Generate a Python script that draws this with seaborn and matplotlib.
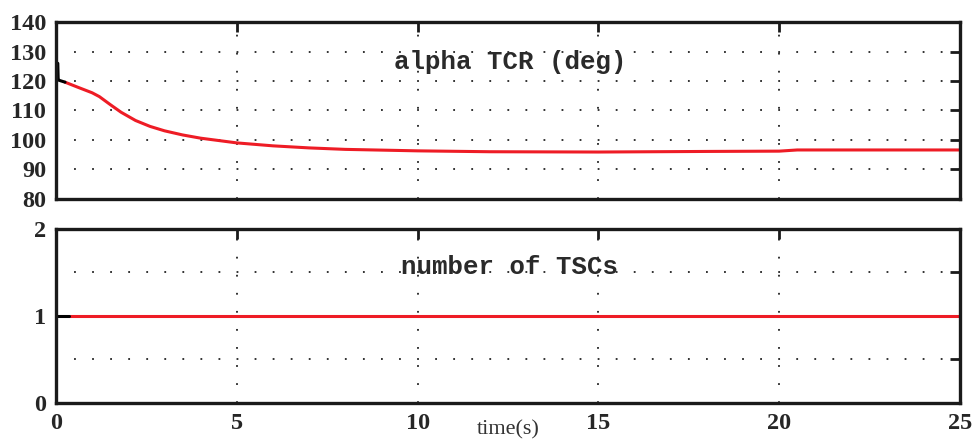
import numpy as np
import pandas as pd
import matplotlib
matplotlib.use("Agg")
import matplotlib.pyplot as plt
import seaborn as sns

# ---- data ----
t_alpha = [0.25, 0.6, 1.0, 1.2, 1.5, 1.8, 2.2, 2.6, 3.0, 3.5, 4.0, 5.0, 6.0,
           7.0, 8.0, 10.0, 12.0, 15.0, 18.0, 20.0, 20.5, 22.0, 25.0]
alpha = [119.6, 117.9, 116.0, 114.7, 112.0, 109.4, 106.6, 104.6, 103.1, 101.7,
         100.6, 99.0, 98.0, 97.3, 96.8, 96.3, 96.0, 95.9, 96.1, 96.2, 96.6,
         96.6, 96.6]
t_alpha_start = [0.05, 0.06, 0.07, 0.25]
alpha_start = [126.0, 121.0, 120.3, 119.6]

t_tsc = [0.35, 25.0]
n_tsc = [1, 1]
t_tsc_start = [0.0, 0.35]
n_tsc_start = [1, 1]

x_ticks = [0, 5, 10, 15, 20, 25]
alpha_ticks = [80, 90, 100, 110, 120, 130, 140]
tsc_ticks = [0, 0.5, 1, 1.5, 2]
tsc_tick_labels = ["0", "", "1", "", "2"]

sns.set_style("white")
plt.rcParams["font.family"] = ["Liberation Serif", "DejaVu Serif"]

fig = plt.figure(figsize=(9.72, 4.41), dpi=100)
ax1 = fig.add_axes([0.0576, 0.549, 0.930, 0.401])
ax2 = fig.add_axes([0.0576, 0.0862, 0.930, 0.395])

grid_kw = dict(color="#222222", linestyle=(0, (1, 9)), linewidth=1.3)

df1 = pd.DataFrame({"t": t_alpha, "v": alpha})
df1s = pd.DataFrame({"t": t_alpha_start, "v": alpha_start})
sns.lineplot(data=df1, x="t", y="v", ax=ax1, color="#ee1c25", linewidth=2.2)
sns.lineplot(data=df1s, x="t", y="v", ax=ax1, color="black", linewidth=2.2)

df2 = pd.DataFrame({"t": t_tsc, "v": n_tsc})
df2s = pd.DataFrame({"t": t_tsc_start, "v": n_tsc_start})
sns.lineplot(data=df2, x="t", y="v", ax=ax2, color="#ee1c25", linewidth=2.2)
sns.lineplot(data=df2s, x="t", y="v", ax=ax2, color="black", linewidth=2.2)

for ax in (ax1, ax2):
    ax.set_xlim(0, 25)
    ax.set_xticks(x_ticks)
    ax.set_xlabel("")
    ax.set_ylabel("")
    for s in ax.spines.values():
        s.set_visible(True)
        s.set_linewidth(2.4)
        s.set_color("#1a1a1a")
    ax.tick_params(direction="in", length=7, width=2, top=True, right=True,
                   labelsize=17.5, pad=7, color="#1a1a1a")
    ax.grid(True, **grid_kw)
    ax.set_axisbelow(True)

ax1.set_ylim(80, 140)
ax1.set_yticks(alpha_ticks)
ax1.set_yticklabels([str(v) for v in alpha_ticks], fontweight="bold")
ax1.tick_params(labelbottom=False)

ax2.set_ylim(0, 2)
ax2.set_yticks(tsc_ticks)
ax2.set_yticklabels(tsc_tick_labels, fontweight="bold")
ax2.set_xticklabels([str(v) for v in x_ticks], fontweight="bold")

ax1.text(0.502, 0.774, "alpha TCR (deg)", transform=ax1.transAxes,
         ha="center", va="center", fontsize=18.5, family=["Liberation Mono"],
         fontweight="bold", color="#2a2a2a")
ax2.text(0.502, 0.78, "number of TSCs", transform=ax2.transAxes,
         ha="center", va="center", fontsize=18.5, family=["Liberation Mono"],
         fontweight="bold", color="#2a2a2a")
fig.text(0.523, 0.025, "time(s)", ha="center", va="center", fontsize=16,
         color="#333333")

fig.savefig("out.png", dpi=100)
